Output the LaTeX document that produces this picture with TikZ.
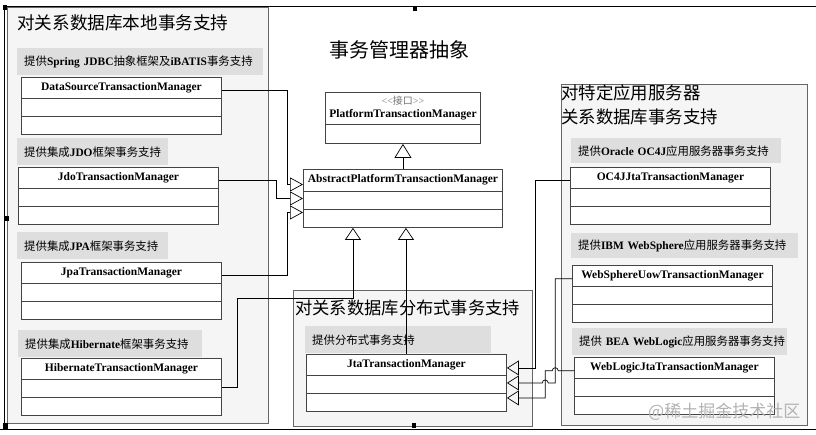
\documentclass[tikz,border=0pt]{standalone}
\usepackage{fontspec}
\setmainfont{Liberation Serif}
\newfontfamily\cjk{Noto Sans CJK SC}
\usetikzlibrary{arrows.meta}
\newcommand{\zh}[1]{{\cjk #1}}
\definecolor{panelbg}{HTML}{F5F5F5}
\definecolor{tagbg}{HTML}{DEDEDE}
\definecolor{edge}{HTML}{666666}
\definecolor{boxline}{HTML}{444444}

\begin{document}
\begin{tikzpicture}[x=1pt,y=-1pt,
    panel/.style={draw=edge,fill=panelbg,line width=0.8pt,anchor=north west,inner sep=0},
    cls/.style={draw=boxline,fill=white,line width=0.9pt,minimum width=200pt,minimum height=57pt,anchor=north west,inner sep=0},
    head/.style={minimum width=200pt,minimum height=21pt,inner sep=0,anchor=north,font=\bfseries\fontsize{11.5}{13}\selectfont},
    row/.style={draw=boxline,line width=0.9pt},
    tag/.style={fill=tagbg,anchor=north west,inner xsep=7pt,inner ysep=0,minimum height=27pt,align=left,font=\fontsize{11.4}{14}\selectfont},
    title/.style={anchor=west,inner sep=0,font=\cjk\fontsize{17.6}{21}\selectfont},
    gen/.style={-{Triangle[open,length=13pt,width=14pt]},line width=0.7pt}]
\useasboundingbox (0,0) rectangle (816,435);

% frame
\draw[line width=0.8pt] (4,429) -- (4,6) -- (816,6);
\draw[line width=0.8pt] (0,429) -- (816,429);

% panels
\node[panel,minimum width=261pt,minimum height=416pt] (local) at (7,7) {};
\node[panel,minimum width=239pt,minimum height=136pt] (dist) at (293,290) {};
\node[panel,minimum width=246pt,minimum height=341pt] (app) at (561,84) {};

\node[title] (local-t) at (17,23) {对关系数据库本地事务支持};
\node[title,font=\cjk\fontsize{20}{24}\selectfont] (main-t) at (329,50) {事务管理器抽象};
\node[title,font=\cjk\fontsize{17.3}{21}\selectfont] (dist-t) at (295,308) {对关系数据库分布式事务支持};
\node[title,align=left,font=\cjk\fontsize{17.4}{24}\selectfont] (app-t) at (561,105) {对特定应用服务器\\关系数据库事务支持};

% tags
\node[tag,text width=232pt] (ds-l) at (17,48) {\mbox{\zh{提供}\textbf{Spring JDBC}\zh{抽象框架及}\textbf{iBATIS}\zh{事务支持}}};
\node[tag,text width=137pt] (jdo-l) at (17,138) {\mbox{\zh{提供集成}\textbf{JDO}\zh{框架事务支持}}};
\node[tag,text width=137pt] (jpa-l) at (17,232) {\mbox{\zh{提供集成}\textbf{JPA}\zh{框架事务支持}}};
\node[tag,text width=170pt] (hib-l) at (18,330) {\mbox{\zh{提供集成}\textbf{Hibernate}\zh{框架事务支持}}};
\node[tag,text width=172pt] (jta-l) at (305,326) {\mbox{\zh{提供分布式事务支持}}};
\node[tag,text width=196pt,minimum height=25pt] (oc4j-l) at (571,138) {\mbox{\zh{提供}\textbf{Oracle OC4J}\zh{应用服务器事务支持}}};
\node[tag,text width=213pt,minimum height=25pt] (ws-l) at (571,233) {\mbox{\zh{提供}\textbf{IBM WebSphere}\zh{应用服务器事务支持}}};
\node[tag,text width=201pt] (wl-l) at (572,328) {\mbox{\zh{提供}\textbf{ BEA WebLogic}\zh{应用服务器事务支持}}};

% classes
\node[cls,minimum width=155pt,minimum height=51pt] (plat) at (325,92) {};
\node[head,minimum width=155pt,minimum height=32pt,align=center] (plat-t) at (plat.north) {{\mdseries\color{black!55}\fontsize{10}{10}\selectfont\textless\kern0pt\textless\zh{接口}\textgreater\kern0pt\textgreater}\\PlatformTransactionManager};
\draw[row] (plat.west |- plat-t.south) -- (plat.east |- plat-t.south);

\node[cls,minimum width=199pt,minimum height=58pt] (abs) at (303,169) {};
\node[head,minimum width=199pt,minimum height=22pt] (abs-t) at (abs.north) {AbstractPlatformTransactionManager};
\draw[row] (abs.west |- abs-t.south) -- (abs.east |- abs-t.south) ++(0,18) -- ++(-199,0);

\node[cls] (ds) at (21,77) {};
\node[head] (ds-t) at (ds.north) {DataSourceTransactionManager};
\draw[row] (ds.west |- ds-t.south) -- (ds.east |- ds-t.south) ++(0,18) -- ++(-200,0);

\node[cls] (jdo) at (18,167) {};
\node[head] (jdo-t) at (jdo.north) {JdoTransactionManager};
\draw[row] (jdo.west |- jdo-t.south) -- (jdo.east |- jdo-t.south) ++(0,18) -- ++(-200,0);

\node[cls] (jpa) at (21,262) {};
\node[head] (jpa-t) at (jpa.north) {JpaTransactionManager};
\draw[row] (jpa.west |- jpa-t.south) -- (jpa.east |- jpa-t.south) ++(0,18) -- ++(-200,0);

\node[cls] (hib) at (21,358) {};
\node[head] (hib-t) at (hib.north) {HibernateTransactionManager};
\draw[row] (hib.west |- hib-t.south) -- (hib.east |- hib-t.south) ++(0,18) -- ++(-200,0);

\node[cls] (jta) at (306,354) {};
\node[head] (jta-t) at (jta.north) {JtaTransactionManager};
\draw[row] (jta.west |- jta-t.south) -- (jta.east |- jta-t.south) ++(0,18) -- ++(-200,0);

\node[cls] (oc4j) at (570,167) {};
\node[head] (oc4j-t) at (oc4j.north) {OC4JJtaTransactionManager};
\draw[row] (oc4j.west |- oc4j-t.south) -- (oc4j.east |- oc4j-t.south) ++(0,18) -- ++(-200,0);

\node[cls] (ws) at (572,265) {};
\node[head] (ws-t) at (ws.north) {WebSphereUowTransactionManager};
\draw[row] (ws.west |- ws-t.south) -- (ws.east |- ws-t.south) ++(0,18) -- ++(-200,0);

\node[cls] (wl) at (574,357) {};
\node[head] (wl-t) at (wl.north) {WebLogicJtaTransactionManager};
\draw[row] (wl.west |- wl-t.south) -- (wl.east |- wl-t.south) ++(0,18) -- ++(-200,0);

% inheritance
\coordinate (a1) at ([yshift=14pt]abs.west);
\coordinate (a2) at (abs.west);
\coordinate (a3) at ([yshift=-14pt]abs.west);
\coordinate (a4) at ([xshift=-50pt]abs.south);
\coordinate (a5) at ([xshift=3pt]abs.south);
\coordinate (j1) at ([yshift=15pt]jta.east);
\coordinate (j2) at (jta.east);
\coordinate (j3) at ([yshift=-15pt]jta.east);

\draw[gen,-{Triangle[open,length=14pt,width=17pt]}] (abs.north) -- (plat.south);
\draw[gen] ([yshift=-3pt]ds-t.east) -| ([xshift=-16pt]a1) -- (a1);
\draw[gen] ([yshift=-3pt]jdo-t.east) -- ++(58,0) |- (a2);
\draw[gen] ([yshift=-3pt]jpa-t.east) -| ([xshift=-16pt]a3) -- (a3);
\draw[gen,-{Triangle[open,length=12pt,width=16pt]}] (hib.east) -- ++(15,0) |- ([yshift=-70pt]a4) -- (a4);
\draw[gen,-{Triangle[open,length=12pt,width=16pt]}] (jta.north -| a5) -- (a5);
\draw[gen,-{Triangle[open,length=12pt,width=15pt]}] ([yshift=-3pt]oc4j-t.west) -- ++(-35,0) |- (j1);
\draw[gen,-{Triangle[open,length=12pt,width=15pt]}] ([yshift=-3pt]ws-t.west) -- ++(-17,0) coordinate (wsb) -- (wsb |- j2) -- ++(-7,0) arc[start angle=0,end angle=180,radius=3pt] -- (j2);
\draw[gen,-{Triangle[open,length=12pt,width=15pt]}] ([yshift=-3pt]wl-t.west) -- ++(-16,0) arc[start angle=0,end angle=180,radius=3pt] -- ++(-7,0) |- (j3);

% handles
\fill (3,5) rectangle (7,10);
\fill (413,6) rectangle (417,11);
\fill (5,216) rectangle (9,221);
\fill (3,423) rectangle (8,429);
\fill (412,423) rectangle (416,428);

\node[anchor=west,inner sep=0,text=black!30,font=\cjk\fontsize{17}{20}\selectfont] (mark) at (648,412) {@稀土掘金技术社区};
\end{tikzpicture}
\end{document}
